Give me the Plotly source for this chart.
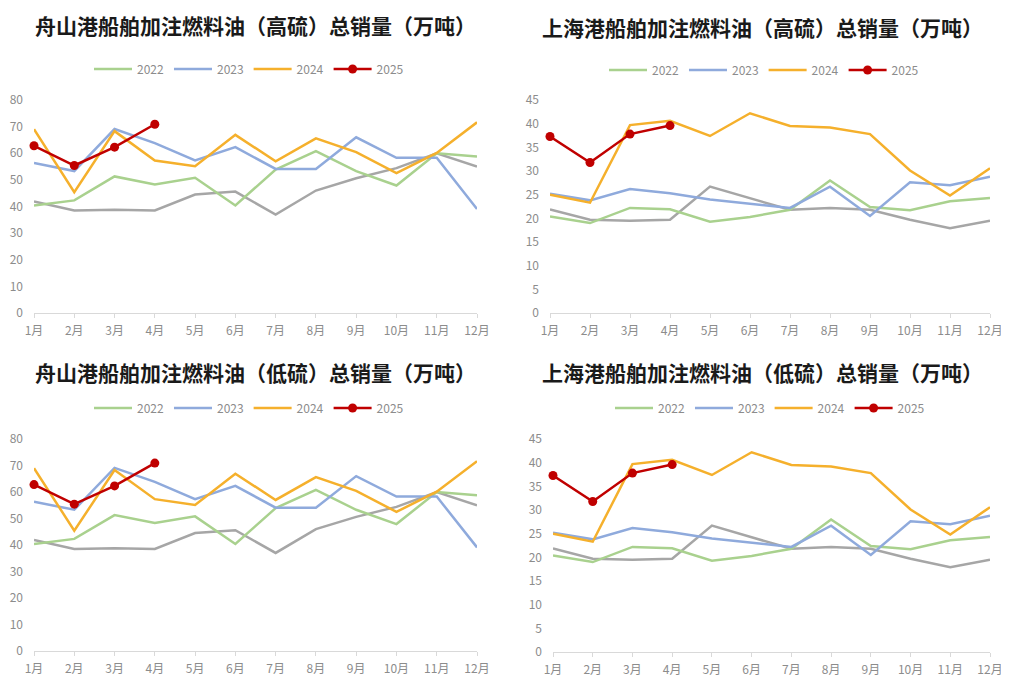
import plotly.graph_objects as go

months = ["1月", "2月", "3月", "4月", "5月", "6月", "7月", "8月", "9月", "10月", "11月", "12月"]
years = ["2022", "2023", "2024", "2025"]

# 舟山港
zs_2021 = [41.9, 38.5, 38.8, 38.5, 44.5, 45.6, 37.0, 46.0, 50.6, 54.4, 60.0, 55.0]
zs_2022 = [40.4, 42.3, 51.3, 48.3, 50.8, 40.4, 53.9, 60.8, 53.3, 47.9, 60.0, 58.8]
zs_2023 = [56.3, 53.3, 69.1, 63.8, 57.3, 62.3, 54.1, 54.1, 66.0, 58.3, 58.3, 39.1]
zs_2024 = [69.0, 45.4, 68.3, 57.3, 55.1, 66.9, 57.0, 65.6, 60.4, 52.5, 60.1, 71.6]
zs_2025 = [62.8, 55.4, 62.3, 70.9]

# 上海港
sh_2021 = [21.9, 19.7, 19.5, 19.7, 26.7, 24.3, 21.8, 22.2, 21.8, 19.7, 17.9, 19.5]
sh_2022 = [20.4, 19.0, 22.2, 21.9, 19.3, 20.3, 21.8, 28.0, 22.4, 21.7, 23.6, 24.3]
sh_2023 = [25.2, 23.8, 26.2, 25.3, 24.0, 23.1, 22.2, 26.7, 20.5, 27.6, 27.0, 28.8]
sh_2024 = [25.0, 23.3, 39.7, 40.6, 37.4, 42.2, 39.5, 39.2, 37.8, 30.1, 24.8, 30.6]
sh_2025 = [37.3, 31.8, 37.8, 39.6]

titles = [
    "舟山港船舶加注燃料油（高硫）总销量（万吨）",
    "上海港船舶加注燃料油（高硫）总销量（万吨）",
    "舟山港船舶加注燃料油（低硫）总销量（万吨）",
    "上海港船舶加注燃料油（低硫）总销量（万吨）",
]

COL_GRAY = "#a6a6a6"
COL_GREEN = "#a9d18e"
COL_BLUE = "#8faadc"
COL_ORANGE = "#f5b02c"
COL_RED = "#c00000"

panels = [
    # (data, x domain px, y px top/bottom, yrange, dtick, title center x, title y, legend center x, legend y)
    ((zs_2021, zs_2022, zs_2023, zs_2024, zs_2025), (34, 477), (100, 313), 80, 10, 255, 25, 249, 69),
    ((sh_2021, sh_2022, sh_2023, sh_2024, sh_2025), (550, 990), (100, 313), 45, 5, 762, 27, 764, 70),
    ((zs_2021, zs_2022, zs_2023, zs_2024, zs_2025), (34, 477), (439, 651), 80, 10, 255, 372, 249, 408),
    ((sh_2021, sh_2022, sh_2023, sh_2024, sh_2025), (553, 990), (439, 652), 45, 5, 762, 372, 770, 408),
]

# page body has an 8px margin; figure is drawn from (8, 8)
OFF = 8
W, H = 1009 - OFF, 686 - OFF
fig = go.Figure()
layout = dict(
    width=W, height=H,
    margin=dict(l=0, r=0, t=0, b=0),
    paper_bgcolor="white", plot_bgcolor="white",
    font=dict(family="Noto Sans CJK SC, Noto Sans, sans-serif"),
    annotations=[],
)

def px(x):
    return (x - OFF) / W

def py(y):
    return 1 - (y - OFF) / H

for i, (data, (x0, x1), (yt, yb), ymax, dtick, tx, ty, lx, ly) in enumerate(panels):
    n = i + 1
    xa = "x" if n == 1 else f"x{n}"
    ya = "y" if n == 1 else f"y{n}"
    leg = "legend" if n == 1 else f"legend{n}"
    d21, d22, d23, d24, d25 = data
    series = [
        (None, d21, COL_GRAY, False),
        ("2022", d22, COL_GREEN, True),
        ("2023", d23, COL_BLUE, True),
        ("2024", d24, COL_ORANGE, True),
    ]
    for name, vals, col, show in series:
        fig.add_trace(go.Scatter(
            x=months[:len(vals)], y=vals, mode="lines", name=name or "2021",
            line=dict(color=col, width=2.5), showlegend=show,
            xaxis=xa, yaxis=ya, legend=leg, cliponaxis=False, hoverinfo="skip"))
    fig.add_trace(go.Scatter(
        x=months[:len(d25)], y=d25, mode="lines+markers", name="2025",
        line=dict(color=COL_RED, width=2.5), marker=dict(color=COL_RED, size=9),
        xaxis=xa, yaxis=ya, legend=leg, cliponaxis=False, hoverinfo="skip"))

    xkey = "xaxis" if n == 1 else f"xaxis{n}"
    ykey = "yaxis" if n == 1 else f"yaxis{n}"
    layout[xkey] = dict(
        domain=[px(x0), min(px(x1), 1)], anchor=ya, type="category", automargin=False,
        categoryorder="array", categoryarray=months, range=[0, 11],
        showgrid=False, zeroline=False, showline=True, linecolor="#d9d9d9", linewidth=1,
        ticks="outside", ticklen=4, tickcolor="#d9d9d9", ticklabelstandoff=3,
        tickfont=dict(size=12, color="#8c8c8c"),
    )
    layout[ykey] = dict(
        domain=[py(yb), py(yt)], anchor=xa, range=[0, ymax], dtick=dtick,
        automargin=False,
        showgrid=False, zeroline=False, showline=False,
        tickfont=dict(size=12, color="#8c8c8c"), ticks="", ticklabelstandoff=10,
    )
    layout[leg] = dict(
        orientation="h", x=px(lx), y=py(ly), xanchor="center", yanchor="middle",
        font=dict(size=12, color="#8c8c8c"), bgcolor="rgba(0,0,0,0)",
        itemwidth=38, tracegroupgap=0,
    )
    layout["annotations"].append(dict(
        text=f"<b>{titles[i]}</b>", x=px(tx), y=py(ty), xref="paper", yref="paper",
        xanchor="center", yanchor="middle", showarrow=False,
        font=dict(size=21, color="#1a1a1a", family="Noto Sans CJK SC"),
    ))

fig.update_layout(**layout)
fig.write_html("out.html")
